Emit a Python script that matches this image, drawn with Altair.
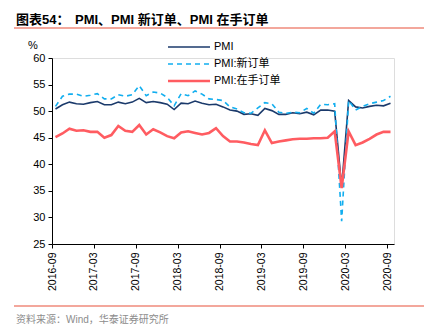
import altair as alt
import pandas as pd

months = [f"{y}-{m:02d}" for y, m in
          [(2016, mm) for mm in range(9, 13)] +
          [(yy, mm) for yy in (2017, 2018, 2019) for mm in range(1, 13)] +
          [(2020, mm) for mm in range(1, 10)]]

pmi = [50.4, 51.2, 51.7, 51.4, 51.3, 51.6, 51.8, 51.2, 51.2, 51.7, 51.4, 51.7,
       52.4, 51.6, 51.8, 51.6, 51.3, 50.3, 51.5, 51.4, 51.9, 51.5, 51.2, 51.3,
       50.8, 50.2, 50.0, 49.4, 49.5, 49.2, 50.5, 50.1, 49.4, 49.4, 49.7, 49.5,
       49.8, 49.3, 50.2, 50.2, 50.0, 35.7, 52.0, 50.8, 50.6, 50.9, 51.1, 51.0,
       51.5]
new_orders = [50.9, 52.8, 53.2, 53.2, 52.8, 53.0, 53.3, 52.3, 52.3, 53.1, 52.8, 53.1,
              54.8, 52.9, 53.6, 53.4, 52.6, 51.0, 53.3, 52.9, 53.8, 53.2, 52.3, 52.2,
              52.0, 50.8, 50.4, 49.7, 49.6, 50.6, 51.6, 51.4, 49.8, 49.6, 49.8, 49.7,
              50.5, 49.6, 51.3, 51.2, 51.4, 29.3, 52.0, 50.2, 50.9, 51.4, 51.7, 52.0,
              52.8]
backlog = [45.1, 45.8, 46.7, 46.3, 46.4, 46.1, 46.1, 45.0, 45.5, 47.2, 46.3, 46.1,
           47.4, 45.6, 46.6, 46.0, 45.3, 44.9, 46.0, 46.2, 45.9, 45.6, 45.9, 46.8,
           45.3, 44.3, 44.3, 44.1, 43.8, 43.6, 46.4, 44.0, 44.3, 44.5, 44.7, 44.8,
           44.8, 44.9, 44.9, 45.0, 46.2, 35.5, 46.2, 43.6, 44.1, 44.8, 45.6, 46.1,
           46.1]

tick_labels = ["2016-09", "2017-03", "2017-09", "2018-03", "2018-09",
               "2019-03", "2019-09", "2020-03", "2020-09"]
y_ticks = [25, 30, 35, 40, 45, 50, 55, 60]
series_names = ["PMI", "PMI:新订单", "PMI:在手订单"]
title_a = "图表54："
title_b = "PMI、PMI 新订单、PMI 在手订单"
source = "资料来源：Wind，华泰证券研究所"

FONT = "Liberation Sans, Arial, 'Noto Sans CJK SC'"
NAVY = "#1B3A6B"
CYAN = "#12AEEF"
RED = "#FF5C61"
ORANGE = "#E8503A"

def frame(vals):
    return pd.DataFrame({"t": [i + 0.5 for i in range(len(vals))],
                         "month": months, "v": vals})

label_expr = "[" + ",".join(f"'{s}'" for s in tick_labels) + "][round(datum.value/6)]"

x_axis = alt.Axis(values=[i * 6 for i in range(len(tick_labels))],
                  labelExpr=label_expr, labelAngle=-90, title=None,
                  grid=False, domainColor="black", tickColor="black",
                  tickSize=4, labelFontSize=10.5, labelColor="black",
                  labelFont=FONT, labelPadding=4, labelOverlap=False)
y_axis = alt.Axis(values=y_ticks, title=None, grid=False,
                  domainColor="black", tickColor="black", tickSize=4,
                  labelFontSize=11, labelColor="black", labelFont=FONT,
                  labelPadding=3, labelOverlap=False)
x_scale = alt.Scale(domain=[0, 49], nice=False, zero=False)
y_scale = alt.Scale(domain=[25, 60], nice=False, zero=False)

def line(vals, **kw):
    return alt.Chart(frame(vals)).mark_line(**kw).encode(
        x=alt.X("t:Q", scale=x_scale, axis=x_axis),
        y=alt.Y("v:Q", scale=y_scale, axis=y_axis))

l_pmi = line(pmi, color=NAVY, strokeWidth=1.6)
l_new = line(new_orders, color=CYAN, strokeWidth=1.6, strokeDash=[5, 4])
l_bl = line(backlog, color=RED, strokeWidth=2.6)

one = pd.DataFrame({"k": [0]})

def text(s, x, y, size=11, weight="normal", color="black", align="left"):
    return alt.Chart(one).mark_text(text=s, fontSize=size, fontWeight=weight, color=color,
                                    align=align, baseline="middle", font=FONT).encode(
        x=alt.value(x), y=alt.value(y))

def hrule(x1, x2, y, color, width=1.0, dash=None):
    kw = dict(color=color, strokeWidth=width)
    if dash:
        kw["strokeDash"] = dash
    return alt.Chart(one).mark_rule(**kw).encode(x=alt.value(x1), x2=alt.value(x2), y=alt.value(y))

OX, OY = 52, 58
layers = [
    l_pmi, l_new, l_bl,
    text(title_a, 16 - OX, 20 - OY, size=13, weight="bold"),
    text(title_b, 75 - OX, 20 - OY, size=13, weight="bold"),
    hrule(14 - OX, 424 - OX, 28 - OY, ORANGE, 1.2),
    text("%", 33 - OX, 46 - OY, size=11, align="center"),
    hrule(168 - OX, 210 - OX, 47 - OY, NAVY, 1.6),
    hrule(168 - OX, 210 - OX, 64 - OY, CYAN, 1.6, [5, 4]),
    hrule(168 - OX, 210 - OX, 81 - OY, RED, 2.6),
    text(series_names[0], 214 - OX, 47 - OY, size=11),
    text(series_names[1], 214 - OX, 64 - OY, size=11),
    text(series_names[2], 214 - OX, 81 - OY, size=11),
    hrule(14 - OX, 424 - OX, 306 - OY, ORANGE, 1.2),
    text(source, 16 - OX, 320 - OY, size=10, color="#8C8C8C"),
]

chart = alt.layer(*layers).properties(
    width=342, height=186,
    autosize=alt.AutoSizeParams(type="none"),
    padding={"left": OX, "top": OY, "right": 432 - 394, "bottom": 332 - 244},
).configure_view(stroke=None).configure(background="white")

chart.save("out.html", embed_options={"renderer": "svg", "actions": False})
